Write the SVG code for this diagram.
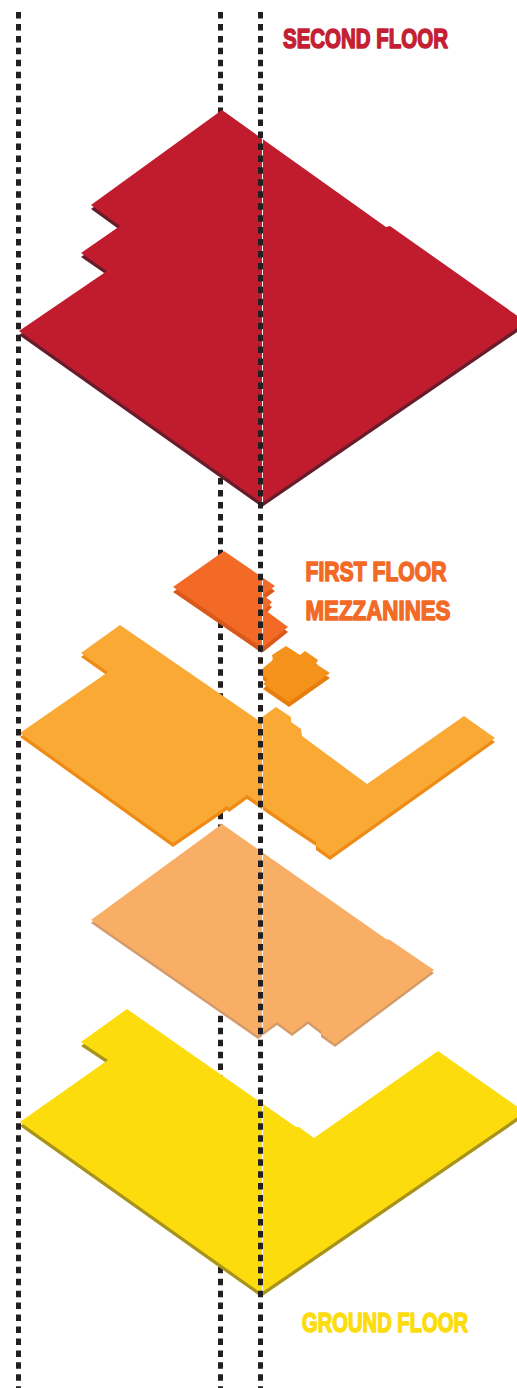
<svg xmlns="http://www.w3.org/2000/svg" width="517" height="1388" viewBox="0 0 517 1388">
<style>
.dash{fill:none;stroke:#231f20;stroke-width:5;stroke-dasharray:6.5 5.45}
.hair{fill:none;stroke:#fff;stroke-width:1}
.lbl{font-family:"Liberation Sans",Arial,sans-serif;font-weight:700;font-size:28.5px;stroke-width:1.6;stroke-linejoin:round}
.slab{filter:url(#soft)}
.red{fill:#c01d2f}.redS{fill:#661b2b}
.mz1{fill:#f26a26}.mz1S{fill:#d9591c}
.mz2{fill:#f5921e}.mz2S{fill:#e67d10}
.f1{fill:#faa935}.f1S{fill:#ee8a12}
.bs{fill:#f9ae66}.bsS{fill:#d39b6c}
.gr{fill:#fcdc0f}.grS{fill:#a8931a}
</style>
<defs><filter id="soft" x="-5%" y="-5%" width="110%" height="110%"><feGaussianBlur stdDeviation="0.45"/></filter></defs>
<rect width="517" height="1388" fill="#fff"/>
<g id="connectors-behind"><path class="dash" d="M220.5 12V1388"/></g>
<g id="second-floor" class="slab">
<polygon class="redS" transform="translate(0,4)" points="222,110 386,227 390,226 526,322 262,503 19,331 107,271 81,253 120,226 91,205"/>
<polygon class="red" points="222,110 386,227 390,226 526,322 262,503 19,331 107,271 81,253 120,226 91,205"/>
</g>
<g id="mezzanine-a" class="slab">
<polygon class="mz1S" transform="translate(0,5)" points="224,551 275,586 263,595 272,602 265,610 288,627 262,648 173,587"/>
<polygon class="mz1" points="224,551 275,586 263,595 272,602 265,610 288,627 262,648 173,587"/>
</g>
<g id="mezzanine-b" class="slab">
<polygon class="mz2S" transform="translate(0,5)" points="286,646 300,655 305,651 318,660 316,664 330,673 289,702 263,684 268,679 263,675 263,668 273,660 272,655"/>
<polygon class="mz2" points="286,646 300,655 305,651 318,660 316,664 330,673 289,702 263,684 268,679 263,675 263,668 273,660 272,655"/>
</g>
<g id="first-floor" class="slab">
<polygon class="f1S" transform="translate(0,4)" points="120,625 258,720 276,707 291,717 291,722 301,729 302,736 367,784 464,716 495,738 330,856 316,846 316,842 292,826 247,795 229,808 227,806 173,843 20,733 108,672 81,653"/>
<polygon class="f1" points="120,625 258,720 276,707 291,717 291,722 301,729 302,736 367,784 464,716 495,738 330,856 316,846 316,842 292,826 247,795 229,808 227,806 173,843 20,733 108,672 81,653"/>
</g>
<g id="basement-slab" class="slab">
<polygon class="bsS" transform="translate(0,3)" points="222,824 386,939 390,940 434,970 335,1044 321,1034 321,1031 308,1021 292,1033 277,1022 258,1036 91,920"/>
<polygon class="bs" points="222,824 386,939 390,940 434,970 335,1044 321,1034 321,1031 308,1021 292,1033 277,1022 258,1036 91,920"/>
</g>
<g id="ground-floor" class="slab">
<polygon class="grS" transform="translate(0,4)" points="127,1009 296,1127 299,1127 314,1138 438,1051 525,1112 261,1293 20,1122 108,1060 81,1042"/>
<polygon class="gr" points="127,1009 296,1127 299,1127 314,1138 438,1051 525,1112 261,1293 20,1122 108,1060 81,1042"/>
</g>
<g id="connectors">
<path class="hair" d="M262.5 138V1296"/>
<path class="dash" d="M18.5 12V1388"/>
<path class="dash" d="M260.5 12V1388"/>
</g>
<g id="labels">
<text class="lbl" x="283" y="48.2" textLength="165" lengthAdjust="spacingAndGlyphs" fill="#c41f33" stroke="#c41f33">SECOND FLOOR</text>
<text class="lbl" x="305.5" y="581.2" textLength="141" lengthAdjust="spacingAndGlyphs" fill="#f26a26" stroke="#f26a26">FIRST FLOOR</text>
<text class="lbl" x="305.5" y="620.2" textLength="145" lengthAdjust="spacingAndGlyphs" fill="#f26a26" stroke="#f26a26">MEZZANINES</text>
<text class="lbl" x="302" y="1332.2" textLength="166" lengthAdjust="spacingAndGlyphs" fill="#fcdc0f" stroke="#fcdc0f">GROUND FLOOR</text>
</g>
</svg>
